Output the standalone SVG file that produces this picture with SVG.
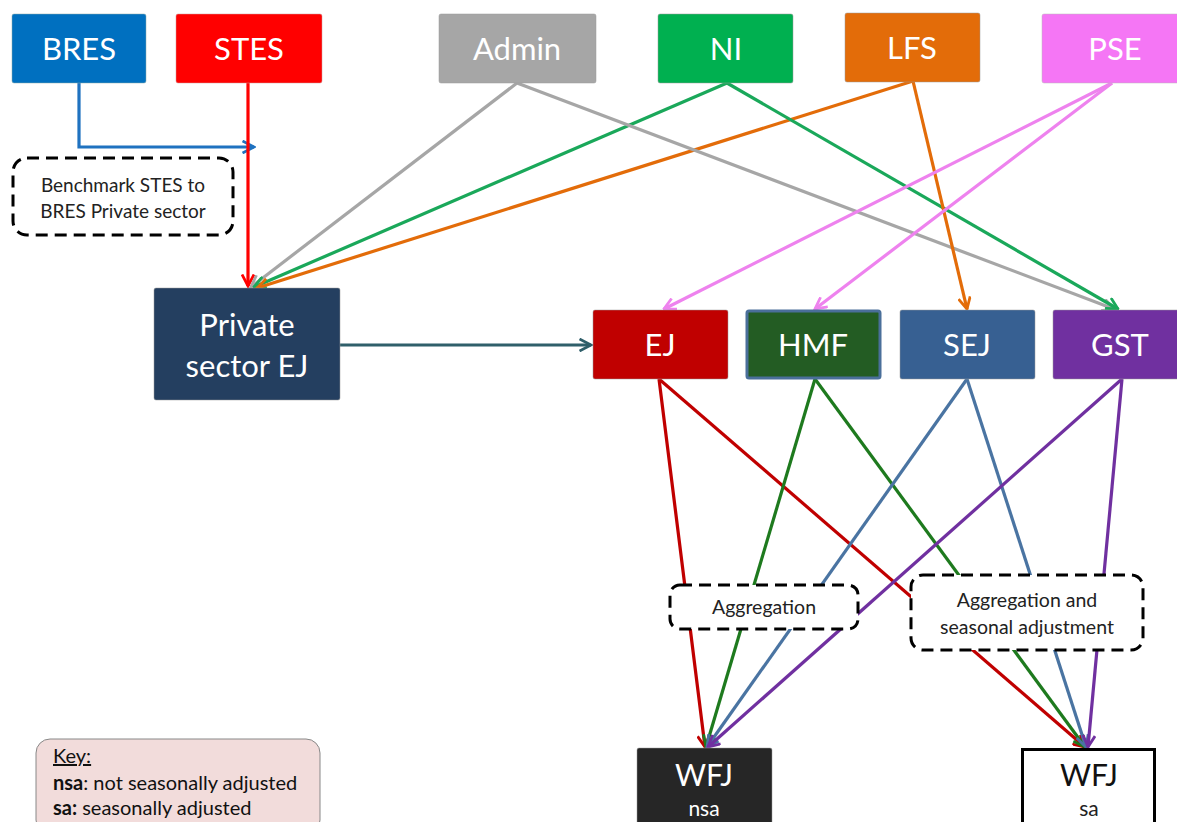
<svg xmlns="http://www.w3.org/2000/svg" width="1177" height="822" viewBox="0 0 1177 822">
<style>
.lbl{font-family:Lato,"Open Sans","Liberation Sans",sans-serif;fill:#fff;text-anchor:middle}
.big{font-size:31px}
.mid{font-size:31px}
.dk{font-family:Lato,"Open Sans","Liberation Sans",sans-serif;fill:#222;text-anchor:middle}
.dash{fill:#fff;stroke:#000;stroke-width:3;stroke-dasharray:12 7}
.c{fill:none;stroke-width:3.2}
.k{font-family:Lato,"Open Sans","Liberation Sans",sans-serif;font-size:20px;fill:#111}
</style>
<defs>
<marker id="mBlue" viewBox="0 0 14 14" refX="12.5" refY="7" markerWidth="14" markerHeight="14" markerUnits="userSpaceOnUse" orient="auto"><path d="M1,1 L12.5,7 L1,13" fill="none" stroke="#1f72c0" stroke-width="2.8"/></marker>
<marker id="mRed" viewBox="0 0 14 14" refX="12.5" refY="7" markerWidth="14" markerHeight="14" markerUnits="userSpaceOnUse" orient="auto"><path d="M1,1 L12.5,7 L1,13" fill="none" stroke="#ff0000" stroke-width="2.8"/></marker>
<marker id="mGray" viewBox="0 0 14 14" refX="12.5" refY="7" markerWidth="14" markerHeight="14" markerUnits="userSpaceOnUse" orient="auto"><path d="M1,1 L12.5,7 L1,13" fill="none" stroke="#a6a6a6" stroke-width="2.8"/></marker>
<marker id="mGreen" viewBox="0 0 14 14" refX="12.5" refY="7" markerWidth="14" markerHeight="14" markerUnits="userSpaceOnUse" orient="auto"><path d="M1,1 L12.5,7 L1,13" fill="none" stroke="#1aa85a" stroke-width="2.8"/></marker>
<marker id="mOrange" viewBox="0 0 14 14" refX="12.5" refY="7" markerWidth="14" markerHeight="14" markerUnits="userSpaceOnUse" orient="auto"><path d="M1,1 L12.5,7 L1,13" fill="none" stroke="#e36c09" stroke-width="2.8"/></marker>
<marker id="mPink" viewBox="0 0 14 14" refX="12.5" refY="7" markerWidth="14" markerHeight="14" markerUnits="userSpaceOnUse" orient="auto"><path d="M1,1 L12.5,7 L1,13" fill="none" stroke="#ee82ee" stroke-width="2.8"/></marker>
<marker id="mTeal" viewBox="0 0 14 14" refX="12.5" refY="7" markerWidth="14" markerHeight="14" markerUnits="userSpaceOnUse" orient="auto"><path d="M1,1 L12.5,7 L1,13" fill="none" stroke="#2f5f6a" stroke-width="2.8"/></marker>
<marker id="mDRed" viewBox="0 0 14 14" refX="12.5" refY="7" markerWidth="14" markerHeight="14" markerUnits="userSpaceOnUse" orient="auto"><path d="M1,1 L12.5,7 L1,13" fill="none" stroke="#c00000" stroke-width="2.8"/></marker>
<marker id="mDGreen" viewBox="0 0 14 14" refX="12.5" refY="7" markerWidth="14" markerHeight="14" markerUnits="userSpaceOnUse" orient="auto"><path d="M1,1 L12.5,7 L1,13" fill="none" stroke="#1e7a1e" stroke-width="2.8"/></marker>
<marker id="mSteel" viewBox="0 0 14 14" refX="12.5" refY="7" markerWidth="14" markerHeight="14" markerUnits="userSpaceOnUse" orient="auto"><path d="M1,1 L12.5,7 L1,13" fill="none" stroke="#4a74a2" stroke-width="2.8"/></marker>
<marker id="mPurple" viewBox="0 0 14 14" refX="12.5" refY="7" markerWidth="14" markerHeight="14" markerUnits="userSpaceOnUse" orient="auto"><path d="M1,1 L12.5,7 L1,13" fill="none" stroke="#7030a0" stroke-width="2.8"/></marker>
</defs>
<rect width="1177" height="822" fill="#fff"/>
<g id="connectors">
<path class="c" d="M79,83 V147 H254" stroke="#1f72c0" marker-end="url(#mBlue)"/>
<path class="c" d="M248,83 L248,286" stroke="#ff0000" marker-end="url(#mRed)"/>
<path class="c" d="M517,83 L251,287" stroke="#a6a6a6" marker-end="url(#mGray)"/>
<path class="c" d="M727,83 L254,287" stroke="#1aa85a" marker-end="url(#mGreen)"/>
<path class="c" d="M913,81 L257,288" stroke="#e36c09" marker-end="url(#mOrange)"/>
<path class="c" d="M517,83 L1114,309" stroke="#a6a6a6" marker-end="url(#mGray)"/>
<path class="c" d="M727,83 L1118,309" stroke="#1aa85a" marker-end="url(#mGreen)"/>
<path class="c" d="M913,81 L967,309" stroke="#e36c09" marker-end="url(#mOrange)"/>
<path class="c" d="M1112,83 L664,309" stroke="#ee82ee" marker-end="url(#mPink)"/>
<path class="c" d="M1112,83 L815,309" stroke="#ee82ee" marker-end="url(#mPink)"/>
<path class="c" d="M340,345 L591,345" stroke="#2f5f6a" marker-end="url(#mTeal)"/>
<path class="c" d="M659,379 L705,747" stroke="#c00000" marker-end="url(#mDRed)"/>
<path class="c" d="M659,379 L1085,747" stroke="#c00000" marker-end="url(#mDRed)"/>
<path class="c" d="M815,379 L706,747" stroke="#1e7a1e" marker-end="url(#mDGreen)"/>
<path class="c" d="M815,379 L1085,747" stroke="#1e7a1e" marker-end="url(#mDGreen)"/>
<path class="c" d="M967,379 L707,747" stroke="#4a74a2" marker-end="url(#mSteel)"/>
<path class="c" d="M967,379 L1086,747" stroke="#4a74a2" marker-end="url(#mSteel)"/>
<path class="c" d="M1122,379 L708,747" stroke="#7030a0" marker-end="url(#mPurple)"/>
<path class="c" d="M1122,379 L1088,747" stroke="#7030a0" marker-end="url(#mPurple)"/>
</g>
<g id="BRES"><rect x="12" y="14" width="134" height="69" rx="2" fill="#0070c0" stroke="#8aa" stroke-width="0.5"/><text class="lbl big" x="79" y="60">BRES</text></g>
<g id="STES"><rect x="176" y="14" width="146" height="69" rx="2" fill="#ff0000" stroke="#c99" stroke-width="0.5"/><text class="lbl big" x="249" y="60">STES</text></g>
<g id="Admin"><rect x="439" y="14" width="157" height="69" rx="2" fill="#a6a6a6" stroke="#999" stroke-width="0.5"/><text class="lbl big" x="517" y="60">Admin</text></g>
<g id="NI"><rect x="658" y="14" width="135" height="69" rx="2" fill="#00b050" stroke="#999" stroke-width="0.5"/><text class="lbl big" x="726" y="60">NI</text></g>
<g id="LFS"><rect x="845" y="13" width="135" height="69" rx="2" fill="#e36c09" stroke="#999" stroke-width="0.5"/><text class="lbl big" x="912" y="59">LFS</text></g>
<g id="PSE"><rect x="1042" y="14" width="140" height="69" rx="2" fill="#f576f5" stroke="#bbb" stroke-width="0.5"/><text class="lbl big" x="1115" y="60">PSE</text></g>
<g id="benchmark"><rect class="dash" x="13" y="158" width="220" height="77" rx="14"/><text class="dk" font-size="19" x="123" y="192">Benchmark STES to</text><text class="dk" font-size="19" x="123" y="218">BRES Private sector</text></g>
<g id="PrivateEJ"><rect x="154" y="288" width="186" height="112" rx="2" fill="#243f60" stroke="#999" stroke-width="0.5"/><text class="lbl big" x="247" y="336">Private</text><text class="lbl big" x="247" y="377">sector EJ</text></g>
<g id="EJ"><rect x="593" y="310" width="135" height="69" rx="2" fill="#c00000" stroke="#999" stroke-width="0.5"/><text class="lbl mid" x="660" y="356">EJ</text></g>
<g id="HMF"><rect x="747" y="311" width="133" height="67" rx="2" fill="#235c23" stroke="#4a6f9a" stroke-width="3"/><text class="lbl mid" x="813" y="356">HMF</text></g>
<g id="SEJ"><rect x="900" y="310" width="135" height="69" rx="2" fill="#376092" stroke="#999" stroke-width="0.5"/><text class="lbl mid" x="967" y="356">SEJ</text></g>
<g id="GST"><rect x="1053" y="310" width="130" height="69" rx="2" fill="#7030a0" stroke="#999" stroke-width="0.5"/><text class="lbl mid" x="1120" y="356">GST</text></g>
<g id="Aggregation"><rect class="dash" x="670" y="585" width="188" height="44" rx="10"/><text class="dk" font-size="19.5" x="764" y="614">Aggregation</text></g>
<g id="AggSA"><rect class="dash" x="911" y="575" width="232" height="75" rx="12"/><text class="dk" font-size="19.5" x="1027" y="607">Aggregation and</text><text class="dk" font-size="19.5" x="1027" y="634">seasonal adjustment</text></g>
<g id="WFJnsa"><rect x="637" y="748" width="135" height="80" rx="2" fill="#262626" stroke="#999" stroke-width="0.5"/><text class="lbl" font-size="30" x="704" y="786">WFJ</text><text class="lbl" font-size="21" x="704" y="816">nsa</text></g>
<g id="WFJsa"><rect x="1022.5" y="749.5" width="132" height="80" fill="#fff" stroke="#000" stroke-width="3"/><text class="dk" font-size="30" x="1089" y="786" style="fill:#111">WFJ</text><text class="dk" font-size="21" x="1089" y="816">sa</text></g>
<g id="Key"><rect x="36" y="739" width="284" height="95" rx="14" fill="#f2dcdb" stroke="#888" stroke-width="1"/><text class="k" x="53" y="763" text-decoration="underline">Key:</text><text class="k" x="53" y="790"><tspan font-weight="bold">nsa</tspan>: not seasonally adjusted</text><text class="k" x="53" y="815"><tspan font-weight="bold">sa:</tspan> seasonally adjusted</text></g>
</svg>
